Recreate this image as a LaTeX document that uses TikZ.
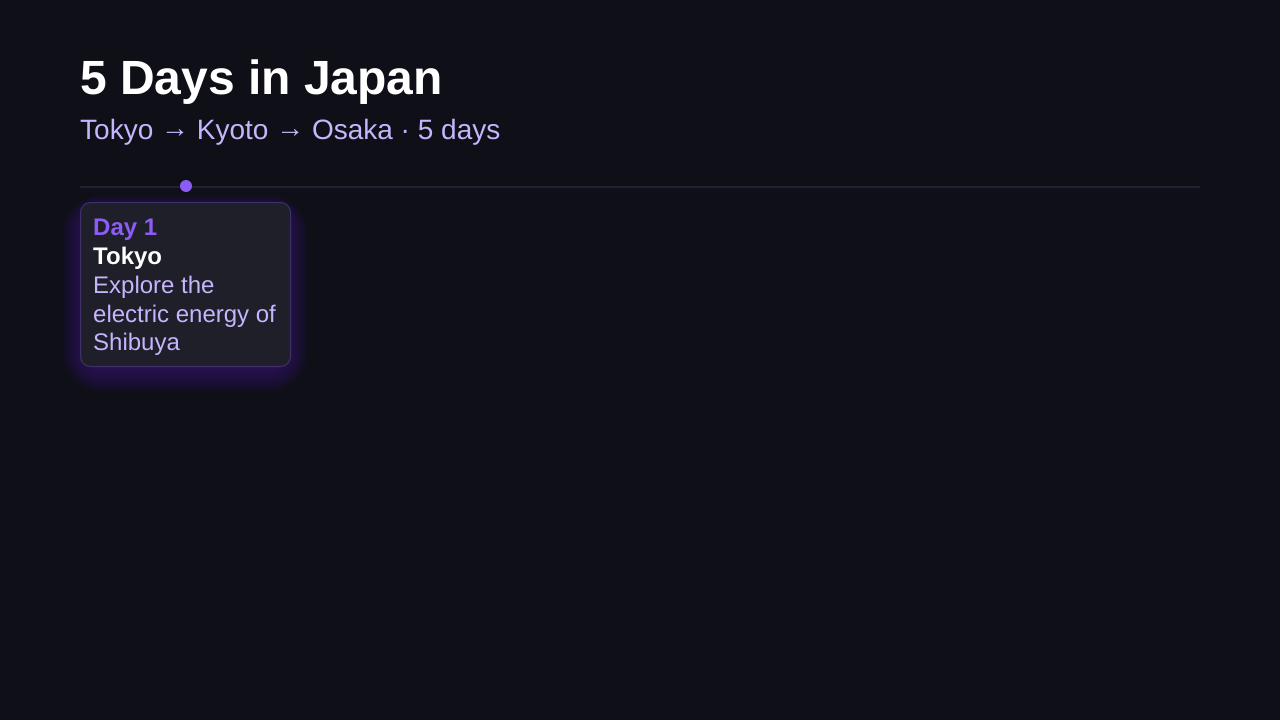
\documentclass[tikz,border=0pt]{standalone}
\usepackage{fontspec}
\setmainfont{Liberation Sans}
\definecolor{bg}{HTML}{0F0F17}
\definecolor{lav}{HTML}{C4B5FD}
\definecolor{vio}{HTML}{8B5CF6}
\definecolor{cardfill}{HTML}{1F1F2A}
\definecolor{cardedge}{HTML}{40306A}
\definecolor{track}{HTML}{231F36}
\definecolor{glow}{HTML}{7C3AED}
\newcommand{\rarr}{\raisebox{1.5pt}{→}}
\tikzset{
  txt/.style={inner sep=0pt, anchor=base west},
  body/.style={txt, text=lav, font=\fontsize{24}{28.8}\selectfont},
  cardbox/.style={draw=cardedge, line width=1pt, fill=cardfill, rounded corners=10pt},
}
\begin{document}
\begin{tikzpicture}[x=1pt,y=-1pt]
\fill[bg] (0,0) rectangle (1280,720);
\useasboundingbox (0,0) rectangle (1280,720);
% title
\node[txt, text=white, font=\fontsize{48}{56}\selectfont\bfseries] (title) at (80,94) {5 Days in Japan};
\node[txt, text=lav, font=\fontsize{28}{34}\selectfont] (sub) at (80,139) {Tokyo \rarr{} Kyoto \rarr{} Osaka · 5 days};
% track
\coordinate (ts) at (80,186.5);
\coordinate (te) at (1200,186.5);
\draw[track, line width=2pt] (ts) -- (te);
\node[circle, fill=vio, minimum size=12pt, inner sep=0pt] (dot) at (186,186) {};
% glow
\foreach \i in {0,...,29}{
  \fill[glow, opacity=0.014, rounded corners={12pt+\i pt}] (88-\i*0.9,214-\i*0.7) rectangle (282+\i*0.9,364+\i*1.0);
}
% card
\node[cardbox, minimum width=210pt, minimum height=164pt, anchor=north west, inner sep=0pt] (card) at (80,202) {};
\node[txt, text=vio, font=\fontsize{24}{28.8}\selectfont\bfseries] (day) at (93,235) {Day 1};
\node[txt, text=white, font=\fontsize{24}{28.8}\selectfont\bfseries] (city) at (93,264) {Tokyo};
\node[body] (desc1) at (93,293) {Explore the};
\node[body] (desc2) at (93,322) {electric energy of};
\node[body] (desc3) at (93,350) {Shibuya};
\end{tikzpicture}
\end{document}
